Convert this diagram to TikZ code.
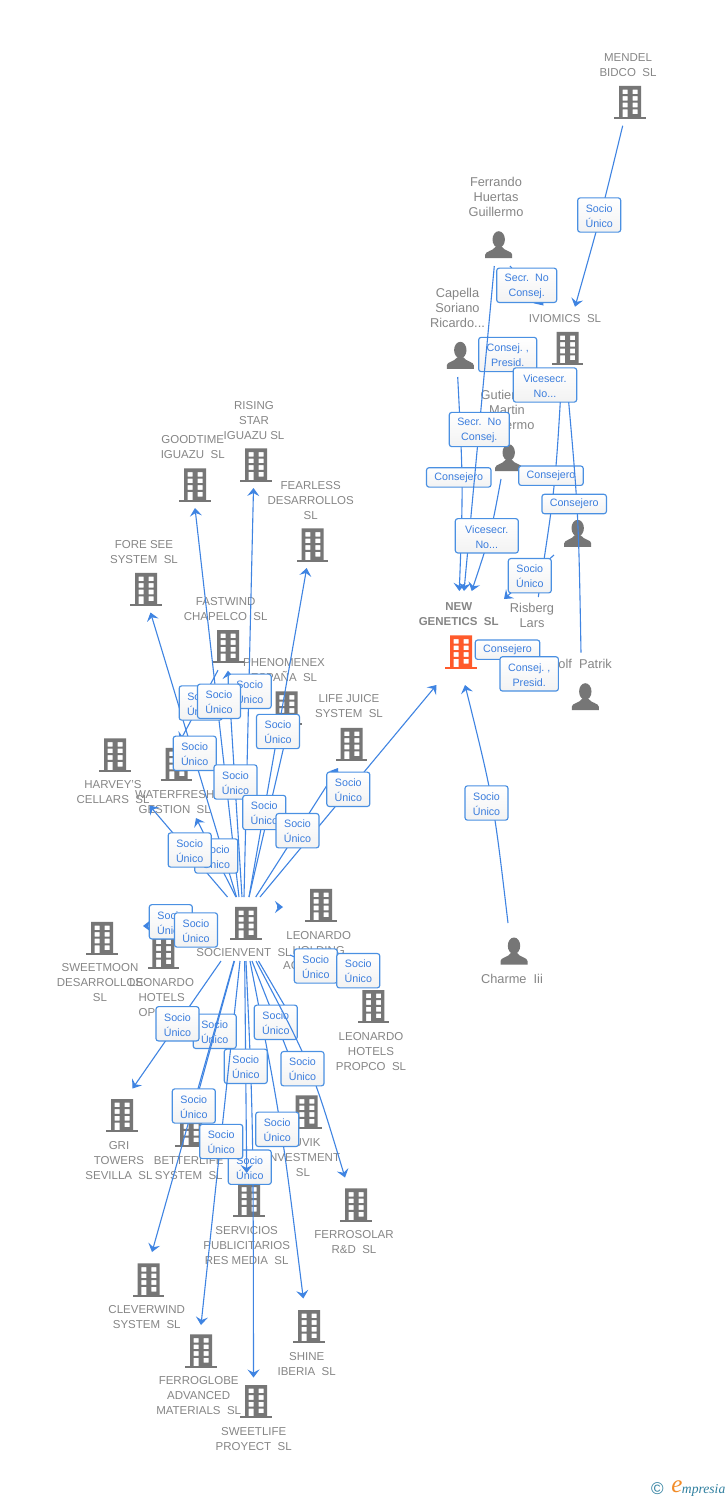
\documentclass[tikz,border=0pt]{standalone}
\usepackage{fontspec}
\setmainfont{Liberation Sans}
\newfontfamily\logofont{Liberation Serif}
\usetikzlibrary{arrows.meta}
\definecolor{iconc}{HTML}{767676}
\definecolor{focusc}{HTML}{FF5A2B}
\definecolor{txtc}{HTML}{868686}
\definecolor{linec}{HTML}{3F84E2}
\definecolor{boxc}{HTML}{4A90E2}
\definecolor{boxt}{HTML}{3B7DDD}
\definecolor{logob}{HTML}{2F7F9F}
\definecolor{logoo}{HTML}{F28C28}
\tikzset{
  ic/.style={inner sep=0pt,minimum width=31pt,minimum height=31pt},
  company/.style={font=\fontsize{11.5}{15}\selectfont,text=txtc,align=center,inner sep=0pt,yshift=-0.7pt},
  focuslabel/.style={font=\fontsize{11.5}{15}\selectfont\bfseries,text=txtc,align=center,inner sep=0pt,yshift=-0.7pt},
  personlabel/.style={font=\fontsize{12.8}{15}\selectfont,text=txtc,align=center,inner sep=0pt},
  link/.style={draw=linec,line width=1.1pt,-{Stealth[length=8pt,width=12pt,inset=3pt]}},
  rolebox/.style={draw=boxc,line width=1.15pt,rounded corners=2.5pt,top color=white,bottom color=white!95!black,
    text=boxt,font=\fontsize{10.7}{15}\selectfont,align=center,inner sep=0pt,minimum height=34.3pt},
}
\newcommand\bld[4][iconc]{%
  \node[ic] (#2) at (#3,#4) {};
  \begin{scope}[shift={(#3,#4)}]
    \fill[#1,even odd rule] (-11,-16.7) rectangle (11,15)
      (-7.3,-13) rectangle (-2.3,-8.5) (2.7,-13) rectangle (7.7,-8.5)
      (-7.3,-6.5) rectangle (-2.3,-1.8) (2.7,-6.5) rectangle (7.7,-1.8)
      (-7.3,0.2) rectangle (-2.3,4.8) (2.7,0.2) rectangle (7.7,4.8)
      (-7.3,6.8) rectangle (-2.3,15) (2.7,6.8) rectangle (7.7,11.5);
    \fill[#1] (-15.7,14.6) rectangle (15.7,16.7);
  \end{scope}}
\newcommand\per[3]{%
  \node[ic] (#1) at (#2,#3) {};
  \begin{scope}[shift={(#2,#3)}]
    \fill[iconc] (0,-5.2) ellipse (6.2 and 8.3);
    \fill[iconc] (-13.5,13.5) -- (-13.5,10) .. controls (-13.5,6.5) and (-6,6.5) .. (-3,2) -- (3,2)
      .. controls (6,6.5) and (13.5,6.5) .. (13.5,10) -- (13.5,13.5) -- cycle;
  \end{scope}}
\newcommand\txt[5][company]{\node[#1] (#2) at (#3,#4) {#5};}
\newcommand\lnk[4]{\draw[link] ([shift={(#2)}]#1.center) -- ([shift={(#4)}]#3.center);}
\newcommand\crv[5]{\draw[link] ([shift={(#2)}]#1.center) .. controls (#3) .. ([shift={(#5)}]#4.center);}
\newcommand\socio[3]{\node[rolebox,minimum width=43pt] (#1) at (#2,#3) {\rule{0pt}{9.6pt}Socio\\Único};}
\newcommand\role[5]{\node[rolebox,minimum width=#4pt] (#1) at (#2,#3) {\rule{0pt}{9.6pt}#5};}
\newcommand\consejero[3]{\node[rolebox,minimum width=64.5pt,minimum height=19.4pt] (#1) at (#2,#3) {Consejero};}
\begin{document}
\begin{tikzpicture}[x=1pt,y=-1pt]
\useasboundingbox (0,0) rectangle (728,1500);
\fill[white] (0,0) rectangle (728,1500);
% ---- company icons
\bld{mendel}{630}{102.5}
\bld{iviomics}{567.5}{348.5}
\bld[focusc]{newgen}{461}{652}
\bld{goodtime}{195}{485}
\bld{rising}{256}{465}
\bld{fearless}{312.7}{545}
\bld{foresee}{146}{589.5}
\bld{fastwind}{228}{646.7}
\bld{phenomenex}{286.7}{708}
\bld{lifejuice}{351.7}{744.5}
\bld{harvey}{115}{755}
\bld{waterfresh}{176.7}{764.5}
\bld{soc}{246}{923.5}
\bld{lholding}{321}{905.5}
\bld{sweetmoon}{102}{938.5}
\bld{lhotelsop}{163.3}{952.7}
\bld{lpropco}{373.3}{1006.7}
\bld{gri}{122}{1115.7}
\bld{betterlife}{191}{1130.7}
\bld{uvik}{306.7}{1112}
\bld{servicios}{249}{1200}
\bld{ferrosolar}{356}{1205}
\bld{cleverwind}{148.7}{1280}
\bld{ferroglobe}{201}{1351}
\bld{shine}{309}{1326.7}
\bld{sweetlife}{256}{1401.7}
% ---- person icons
\per{ferrando}{498.7}{244.7}
\per{capella}{460.3}{355.3}
\per{gutierrez}{508.7}{457.7}
\per{anon}{577.7}{533.3}
\per{risberg}{531}{656}
\per{rolf}{585.3}{696.7}
\per{charme}{514}{951}
% ---- texts
\txt{mendel-t}{628}{64.5}{MENDEL\\BIDCO~~SL}
\txt{iviomics-t}{565}{318}{IVIOMICS~~SL}
\txt[focuslabel]{newgen-t}{458.7}{613.5}{NEW\\GENETICS~~SL}
\txt{goodtime-t}{192.7}{446.5}{GOODTIME\\IGUAZU~~SL}
\txt{rising-t}{254}{420}{RISING\\STAR\\IGUAZU SL}
\txt{fearless-t}{310.7}{500}{FEARLESS\\DESARROLLOS\\SL}
\txt{foresee-t}{144}{551.5}{FORE SEE\\SYSTEM~~SL}
\txt{fastwind-t}{225.7}{608.5}{FASTWIND\\CHAPELCO~~SL}
\txt{phenomenex-t}{284}{669.5}{PHENOMENEX\\ESPAÑA~~SL}
\txt{lifejuice-t}{349}{705.5}{LIFE JUICE\\SYSTEM~~SL}
\txt{harvey-t}{113}{791.5}{HARVEY'S\\CELLARS~~SL}
\txt{waterfresh-t}{174.7}{801.5}{WATERFRESH\\GESTION~~SL}
\txt{soc-t}{244}{952}{SOCIENVENT~~SL}
\txt{lholding-t}{318.7}{950}{LEONARDO\\HOLDING\\ACTIVOS~~SL}
\txt{sweetmoon-t}{100}{982}{SWEETMOON\\DESARROLLOS\\SL}
\txt{lhotelsop-t}{161.7}{997}{LEONARDO\\HOTELS\\\hspace{5pt}OPCO SL}
\txt{lpropco-t}{371}{1051}{LEONARDO\\HOTELS\\PROPCO~~SL}
\txt{gri-t}{119}{1160}{GRI\\TOWERS\\SEVILLA~~SL}
\txt{betterlife-t}{188.7}{1167.5}{BETTERLIFE\\SYSTEM~~SL}
\txt{uvik-t}{303}{1157}{\phantom{R}UVIK\\INVESTMENT\\SL}
\txt{servicios-t}{246.7}{1245}{SERVICIOS\\PUBLICITARIOS\\RES MEDIA~~SL}
\txt{ferrosolar-t}{354}{1241.5}{FERROSOLAR\\R\&D~~SL}
\txt{cleverwind-t}{146.7}{1316.5}{CLEVERWIND\\SYSTEM~~SL}
\txt{ferroglobe-t}{198.7}{1395}{FERROGLOBE\\ADVANCED\\MATERIALS~~SL}
\txt{shine-t}{306.7}{1363.5}{SHINE\\IBERIA~~SL}
\txt{sweetlife-t}{253.7}{1438.5}{SWEETLIFE\\PROYECT~~SL}
\txt[personlabel]{ferrando-t}{496}{197}{Ferrando\\Huertas\\Guillermo}
\txt[personlabel]{capella-t}{457.5}{308}{Capella\\Soriano\\Ricardo...}
\txt[personlabel]{gutierrez-t}{507}{410}{Gutierrez\\Martin\\Guillermo}
\txt[personlabel]{risberg-t}{532}{615.5}{Risberg\\Lars}
\node[personlabel,anchor=east] (rolf-t) at (612,663.5) {Rolf~~Patrik};
\txt[personlabel]{charme-t}{512}{979}{Charme~~Iii}
% ---- right-hand cluster
\crv{mendel}{-7.3,23.2}{601,215}{iviomics}{7.5,-41.8}
\socio{b-mendel}{599.2}{215}
\role{b-presid1}{507.7}{354.5}{58}{Consej.~,\\Presid.}
\lnk{ferrando}{11.3,21.3}{iviomics}{-24,-43}
\role{b-secr1}{526.7}{285.3}{60}{Secr.~~No\\Consej.}
\crv{capella}{-2.6,21.7}{463.2,484}{newgen}{-1.7,-61}
\consejero{b-cons1}{458.8}{477.4}
\lnk{ferrando}{-4.4,21.3}{newgen}{3,-61}
\role{b-secr2}{479.3}{429.5}{60}{Secr.~~No\\Consej.}
\crv{gutierrez}{-7.7,21.3}{491,533}{newgen}{10.7,-61}
\role{b-vice1}{486.8}{535.8}{63}{Vicesecr.\\No...}
\crv{risberg}{7.3,-59}{555.5,485}{iviomics}{-5.5,23.5}
\consejero{b-cons2}{551}{475.7}
\crv{rolf}{-4.3,-44}{578.5,512}{iviomics}{-1.5,23.5}
\consejero{b-cons3}{574.2}{504}
\role{b-vice2}{545}{385}{63.4}{Vicesecr.\\No...}
\lnk{anon}{-23.7,21.7}{newgen}{43,-53}
\socio{b-anon}{529.8}{575.7}
\consejero{b-cons4}{507.5}{649.7}
\role{b-presid2}{529.2}{673.9}{58.4}{Consej.~,\\Presid.}
\crv{charme}{-6,-28}{493.5,800}{newgen}{4,33}
\socio{b-charme}{486.5}{803}
% ---- upper fan of SOCIENVENT
\lnk{soc}{-7,-26.5}{goodtime}{0,23}
\lnk{soc}{-2,-26.5}{rising}{-2.5,23}
\lnk{soc}{3,-26.5}{fearless}{-6,23}
\lnk{soc}{-9.5,-26.5}{foresee}{4.5,23}
\lnk{soc}{-4,-26.5}{fastwind}{0,24}
\lnk{soc}{3,-26.5}{phenomenex}{0.3,25}
\lnk{soc}{9.7,-26.5}{lifejuice}{-13.7,23.5}
\lnk{soc}{14,-26.5}{newgen}{-24.5,33}
\lnk{soc}{-18.5,-26.5}{harvey}{34.5,50.5}
\lnk{soc}{-10,-26.5}{waterfresh}{19.3,53.5}
\lnk{fastwind}{-10,23.5}{waterfresh}{3.3,-23.5}
\socio{b-j}{216.3}{856}
\socio{b-k}{189.7}{850}
\socio{b-c}{249.7}{691.3}
\socio{b-a}{200.7}{703}
\socio{b-b}{219}{701.3}
\socio{b-d}{278}{731.5}
\socio{b-e}{194.7}{753.3}
\socio{b-f}{235.5}{782}
\socio{b-g}{264.3}{812.5}
\socio{b-h}{297.5}{830.7}
\socio{b-i}{348.3}{789.3}
% ---- sideways
\lnk{soc}{-46,1.5}{sweetmoon}{41,-12.5}
\lnk{soc}{-31,6.5}{lhotelsop}{14.7,-22.7}
\lnk{soc}{31,-16.5}{lholding}{-38,1.5}
\socio{b-l}{170.8}{921.8}
\socio{b-m}{196}{930}
\lnk{soc}{44,31.5}{lpropco}{-31.3,-29.7}
\socio{b-n}{315.8}{966}
\socio{b-o}{358.3}{970.7}
% ---- lower fan
\crv{soc}{4,37.5}{281,1120}{shine}{-5.7,-28.2}
\socio{b-v}{277.2}{1129.3}
\crv{soc}{0,37.5}{253.2,1120}{sweetlife}{-2.5,-24.2}
\socio{b-x}{249.8}{1167.2}
\lnk{soc}{-1.3,37.5}{servicios}{-2.3,-27}
\socio{b-s}{245.8}{1066.3}
\lnk{soc}{-6,37.5}{ferroglobe}{0,-26}
\socio{b-w}{221.2}{1141.5}
\socio{b-q}{214.7}{1031.3}
\lnk{soc}{-25,37.5}{gri}{10.5,-27.2}
\lnk{soc}{-12,37.5}{cleverwind}{3.3,-28}
\lnk{soc}{-11.5,37.5}{betterlife}{5,-29.7}
\socio{b-p}{177.5}{1023.8}
\socio{b-u}{193.8}{1106}
\lnk{soc}{12.5,37.5}{uvik}{-16.7,-97}
\lnk{soc}{6,37.5}{uvik}{-6.7,-29}
\socio{b-r}{275.8}{1022.3}
\crv{soc}{10,37.5}{311,1065}{ferrosolar}{-11,-27.5}
\socio{b-t}{302.5}{1068.7}
% ---- logo
\node[text=logob,font=\fontsize{17}{17}\selectfont,inner sep=0pt] (logo-c) at (657.5,1489) {©};
\node[text=logoo,font=\logofont\itshape\fontsize{25}{25}\selectfont,inner sep=0pt] (logo-e) at (677,1487) {e};
\node[text=logob,font=\logofont\itshape\fontsize{13.6}{14}\selectfont,inner sep=0pt,anchor=east] (logo-t) at (725.5,1490) {mpresia};
\end{tikzpicture}
\end{document}
